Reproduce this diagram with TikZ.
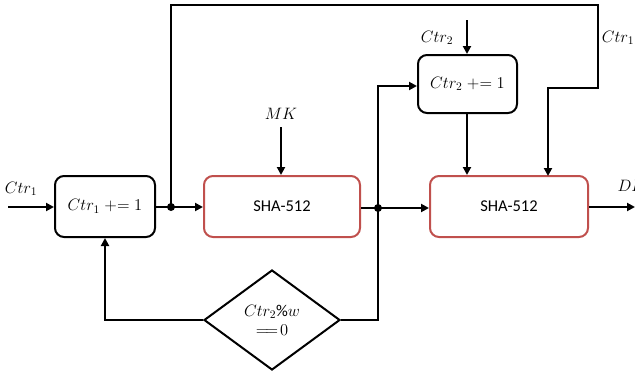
\documentclass[tikz,border=0pt]{standalone}
\usepackage{fontspec}
\setmainfont{Carlito}
\usepackage{fix-cm}
\usetikzlibrary{arrows.meta,shapes.geometric}
\tikzset{
  line/.style={line width=2pt},
  arr/.style={line width=2pt,-{Triangle[length=8pt,width=8pt]}},
  blackbox/.style={draw=black,line width=2pt,rounded corners=9pt,fill=white},
  redbox/.style={draw={rgb,255:red,192;green,80;blue,77},line width=2pt,rounded corners=9pt,fill=white},
  dot/.style={circle,fill=black,inner sep=0pt,minimum size=8pt},
  lbl/.style={font=\fontsize{16.5}{19}\selectfont},
  shafont/.style={font=\fontsize{16.5}{19}\selectfont},
}
\begin{document}
\begin{tikzpicture}[x=1pt,y=-1pt]
\clip (0,0) rectangle (635,372);
\fill[white] (0,0) rectangle (635,372);
% boxes
\node[blackbox,minimum width=100pt,minimum height=61pt,lbl] (b1) at (105,206.5) {$Ctr_1 \mathrel{{+}{=}} 1$};
\node[redbox,minimum width=156pt,minimum height=61pt,shafont] (s1) at (282,206.5) {SHA-512};
\node[blackbox,minimum width=99pt,minimum height=58pt,lbl] (b2) at (467.5,84) {$Ctr_2 \mathrel{{+}{=}} 1$};
\node[redbox,minimum width=158pt,minimum height=61pt,shafont] (s2) at (509,206.5) {SHA-512};
\node[diamond,draw,line width=2pt,minimum width=136pt,minimum height=100pt,inner sep=0pt,fill=white,align=center,lbl] (d) at (272,320) {$Ctr_2\%w$\\$=\!=\!0$};
% coordinates
\coordinate (in1) at (8,207);
\coordinate (j1) at (171,207);
\coordinate (j2) at (378,208);
\coordinate (mk) at (281,127);
\coordinate (c2) at (467,20);
\coordinate (dk) at (635,207);
% labels
\node[lbl] (lc1) at (21,189) {$Ctr_1$};
\node[lbl] (lmk) at (281,114) {$MK$};
\node[lbl] (lc2) at (437,38) {$Ctr_2$};
\node[lbl] (lc1b) at (618,38) {$Ctr_1$};
\node[lbl] (ldk) at (632,186) {$DK$};
% connectors
\draw[arr] (in1) -- (b1.west |- in1);
\draw[line] (b1.east |- j1) -- (j1);
\draw[arr] (j1) -- (s1.west |- j1);
\draw[arr] (j1) -- (171,5) -- (598,5) -- (598,88) -- (548,88) -- (548,176);
\draw[arr] (mk) -- (s1.north -| mk);
\draw[line] (s1.east |- j2) -- (j2);
\draw[arr] (j2) -- (s2.west |- j2);
\draw[arr] (j2) -- (378,86) -- (b2.west |- 0,86);
\draw[line] (j2) -- (378,320) -- (d.east);
\draw[arr] (d.west) -- (105,320) -- (b1.south);
\draw[arr] (c2) -- (b2.north -| c2);
\draw[arr] (b2.south -| c2) -- (s2.north -| c2);
\draw[arr] (s2.east |- dk) -- (dk);
\node[dot] at (j1) {};
\node[dot] at (j2) {};
\end{tikzpicture}
\end{document}
